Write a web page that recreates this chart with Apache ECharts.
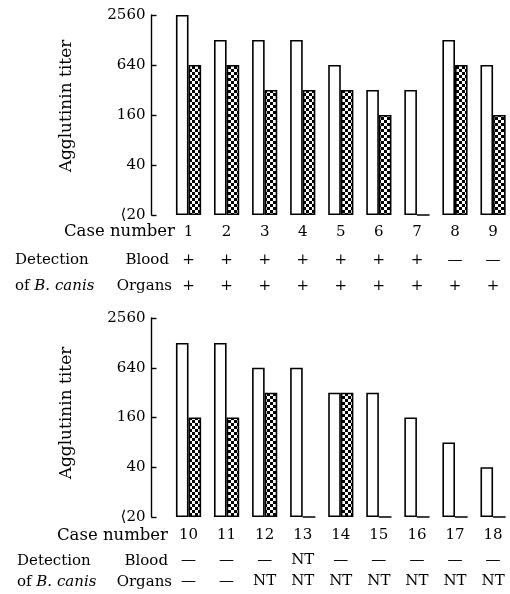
<!DOCTYPE html>
<html>
<head>
<meta charset="utf-8">
<script src="https://cdn.jsdelivr.net/npm/echarts@6/dist/echarts.min.js"></script>
<style>html,body{margin:0;padding:0;background:#fff;}#c{width:510px;height:594px;}</style>
</head>
<body>
<div id="c"></div>
<script>
// ---- data ----
var caseTop = ['1','2','3','4','5','6','7','8','9'];
var whiteTop = [2560,1280,1280,1280,640,320,320,1280,640];
var hatchTop = [640,640,320,320,320,160,10,640,160];   // 10 = "<20"
var bloodTop = ['+','+','+','+','+','+','+','—','—'];
var organsTop = ['+','+','+','+','+','+','+','+','+'];

var caseBottom = ['10','11','12','13','14','15','16','17','18'];
var whiteBottom = [1280,1280,640,640,320,320,160,80,40];
var hatchBottom = [160,160,320,10,320,10,10,10,10];
var bloodBottom = ['—','—','—','NT','—','—','—','—','—'];
var organsBottom = ['—','—','NT','NT','NT','NT','NT','NT','NT'];

var tickValues = [10,40,160,640,2560];
var tickLabels = ['⟨20','40','160','640','2560'];

// ---- helpers ----
function toAxis(v){ return Math.log(v/10)/Math.log(4); }
function fmt(t){ var i = Math.round(t); return tickLabels[i] !== undefined ? tickLabels[i] : ''; }

var pc = document.createElement('canvas');
pc.width = 6; pc.height = 6;
var g = pc.getContext('2d');
g.fillStyle = '#fff'; g.fillRect(0,0,6,6);
g.fillStyle = '#000'; g.fillRect(0,0,3,3); g.fillRect(3,3,3,3);
var pattern = {image: pc, repeat: 'repeat'};

var FONT = '"DejaVu Serif", serif';
var gridLeft = 169.5, gridW = 342.6, axisX = 151.5;

function yAxis(gi){
  return {
    type: 'value', gridIndex: gi, min: 0, max: 4, interval: 1,
    offset: gridLeft - axisX,
    axisLine: {show: true, lineStyle: {color: '#000', width: 1.4}},
    axisTick: {show: true, inside: true, length: 5, lineStyle: {color: '#000', width: 1.4}},
    axisLabel: {formatter: fmt, color: '#000', fontFamily: FONT, fontSize: 15, margin: 6},
    splitLine: {show: false}
  };
}
function xAxis(gi, data, offset, margin){
  return {
    type: 'category', gridIndex: gi, data: data, offset: offset, position: 'bottom',
    axisLine: {show: false}, axisTick: {show: false},
    axisLabel: {color: '#000', fontFamily: FONT, fontSize: 15, margin: margin, interval: 0}
  };
}
function bars(x, y, data, color){
  return {
    type: 'bar', xAxisIndex: x, yAxisIndex: y, data: data.map(toAxis),
    barWidth: 12.6, barGap: '0%', clip: false, silent: true,
    itemStyle: {color: color, borderColor: '#000', borderWidth: 1.6},
    animation: false
  };
}
function txt(x, y, text, align, rot, size){
  size = size || 15;
  return {
    type: 'text', x: x, y: y, rotation: rot || 0,
    style: {text: text, fill: '#000', font: size + 'px ' + FONT, align: align, verticalAlign: 'middle',
      rich: {i: {fontStyle: 'italic', fontFamily: FONT, fontSize: size, fill: '#000'}}}
  };
}

var chart = echarts.init(document.getElementById('c'), null, {renderer: 'canvas'});
chart.setOption({
  animation: false,
  grid: [
    {left: gridLeft, width: gridW, top: 15, height: 200, containLabel: false, outerBoundsMode: 'none'},
    {left: gridLeft, width: gridW, top: 318, height: 199, containLabel: false, outerBoundsMode: 'none'}
  ],
  yAxis: [yAxis(0), yAxis(1)],
  xAxis: [
    xAxis(0, caseTop, 0, 10), xAxis(0, bloodTop, 28, 10), xAxis(0, organsTop, 54, 10),
    xAxis(1, caseBottom, 0, 11), xAxis(1, bloodBottom, 25, 11), xAxis(1, organsBottom, 46, 11)
  ],
  series: [
    bars(0, 0, whiteTop, '#fff'), bars(0, 0, hatchTop, pattern),
    bars(3, 1, whiteBottom, '#fff'), bars(3, 1, hatchBottom, pattern)
  ],
  graphic: [
    txt(67, 106, 'Agglutinin titer', 'center', Math.PI/2, 17),
    txt(175, 232, 'Case number', 'right', 0, 16.5),
    txt(15, 260, 'Detection', 'left'),
    txt(169, 260, 'Blood', 'right'),
    txt(15, 286, 'of {i|B. canis}', 'left'),
    txt(172, 286, 'Organs', 'right'),
    txt(67, 413, 'Agglutinin titer', 'center', Math.PI/2, 17),
    txt(168, 536, 'Case number', 'right', 0, 16.5),
    txt(17, 561, 'Detection', 'left'),
    txt(168, 561, 'Blood', 'right'),
    txt(17, 582, 'of {i|B. canis}', 'left'),
    txt(172, 582, 'Organs', 'right')
  ]
});
</script>
</body>
</html>
